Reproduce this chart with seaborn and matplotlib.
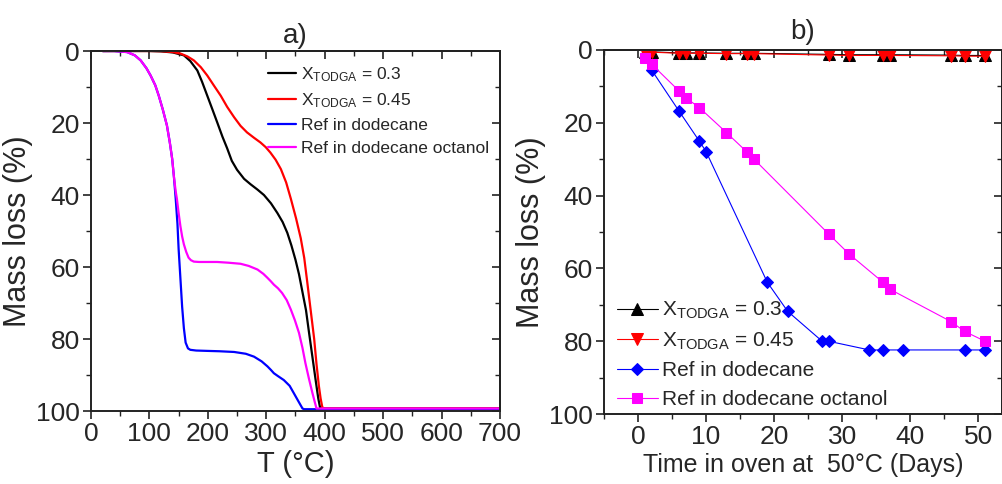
import numpy as np
import pandas as pd
import matplotlib
matplotlib.use("Agg")
import matplotlib.pyplot as plt
from matplotlib.ticker import MultipleLocator
import seaborn as sns

# ---------------- Panel a data (TGA) ----------------
T_x03 = [20, 60, 100, 120, 140, 159, 170, 182, 190, 199, 208, 216, 225, 233, 241, 250, 262, 273, 285, 296, 308, 319, 328, 336, 343, 350, 356, 362, 368, 373, 379, 385, 389, 392, 396, 420, 500, 600, 700]
ML_x03 = [0, 0, 0, 0.1, 0.4, 1.2, 2.8, 5.4, 8.5, 12.4, 16.3, 19.8, 23.8, 27, 30.5, 33, 35.5, 37, 38.5, 40, 42.3, 45, 47.5, 50.5, 54, 58, 62, 67, 72, 78, 85, 92, 96.5, 99, 99.3, 99.3, 99.3, 99.3, 99.3]

T_x045 = [20, 60, 100, 120, 140, 153, 165, 176, 188, 199, 210, 222, 233, 245, 256, 267, 279, 290, 299, 307, 316, 325, 334, 342, 351, 359, 365, 370, 376, 382, 386, 390, 393, 396, 400, 420, 500, 600, 700]
ML_x045 = [0, 0, 0, 0.05, 0.3, 0.7, 1.5, 2.6, 4.5, 6.8, 9.5, 12.4, 15.5, 18.4, 20.8, 22.6, 24.1, 25.4, 26.7, 28.2, 30.2, 32.8, 36.5, 41, 46.5, 52, 57.5, 64, 72, 80, 87, 93, 96.5, 99, 99.3, 99.3, 99.3, 99.3, 99.3]

T_dod = [20, 40, 62, 75, 85, 95, 102, 110, 116, 123, 130, 135, 139, 142, 145, 148, 150, 153, 156, 159, 162, 166, 170, 180, 199, 220, 245, 265, 279, 292, 302, 308, 313, 320, 330, 340, 347, 355, 362, 365, 400, 500, 600, 700]
ML_dod = [0, 0, 0.3, 1.2, 2.6, 4.8, 6.8, 9.5, 12.4, 16.3, 20.7, 25.5, 30, 35, 41, 48, 55, 63, 71, 77, 81, 82.6, 83, 83.2, 83.3, 83.4, 83.6, 84.1, 84.9, 86.2, 87.6, 88.6, 89.5, 90.3, 91.4, 93, 95, 97.3, 99.3, 99.5, 99.5, 99.5, 99.5, 99.5]

T_oct = [20, 40, 62, 75, 85, 95, 102, 110, 116, 123, 130, 135, 139, 142, 145, 147, 150, 153, 156, 159, 163, 167, 171, 176, 185, 200, 216, 235, 256, 270, 285, 295, 302, 308, 313, 320, 327, 335, 342, 349, 356, 362, 367, 373, 379, 383, 386, 390, 420, 500, 600, 700]
ML_oct = [0, 0, 0.3, 1.2, 2.6, 4.8, 6.8, 9.5, 12.4, 16.3, 20.7, 25.5, 30, 35, 39, 41, 45, 48.6, 51.5, 53.7, 55.8, 57.4, 58.1, 58.5, 58.6, 58.6, 58.6, 58.8, 59.1, 59.7, 60.7, 61.9, 63, 64, 64.9, 65.9, 67.2, 69.2, 71.8, 74.8, 78.3, 82.5, 86.7, 91, 95, 97.5, 99.3, 99.3, 99.3, 99.3, 99.3, 99.3]

# ---------------- Panel b data (oven ageing) ----------------
days_x = [1, 2, 6, 7, 9, 13, 16, 17, 28, 31, 36, 37, 46, 48, 51]
loss_x03 = [0.5, 0.5, 0.8, 0.8, 0.8, 0.9, 0.9, 0.9, 1.2, 1.3, 1.3, 1.3, 1.4, 1.5, 1.5]
loss_x045 = [0.6, 0.6, 0.9, 0.9, 0.9, 1.0, 1.0, 1.0, 1.4, 1.5, 1.5, 1.5, 1.6, 1.7, 1.7]

days_dod = [2, 6, 9, 10, 19, 22, 27, 28, 34, 36, 39, 48, 51]
loss_dod = [5.5, 16.7, 25, 27.9, 63.8, 71.8, 79.9, 80, 82.4, 82.4, 82.4, 82.4, 82.4]

days_oct = [1, 2, 6, 7, 9, 13, 16, 17, 28, 31, 36, 37, 46, 48, 51]
loss_oct = [2.3, 3.9, 11.2, 13.1, 15.8, 22.7, 28, 29.9, 50.5, 56, 63.8, 65.7, 74.6, 77.3, 80]

lab_x03 = r'X$_{\mathregular{TODGA}}$ = 0.3'
lab_x045 = r'X$_{\mathregular{TODGA}}$ = 0.45'
lab_dod = 'Ref in dodecane'
lab_oct = 'Ref in dodecane octanol'

sns.set_theme(style="ticks")
plt.rcParams['font.family'] = ['Liberation Sans', 'DejaVu Sans']
plt.rcParams['mathtext.default'] = 'regular'
plt.rcParams['axes.edgecolor'] = '#222222'
plt.rcParams['axes.linewidth'] = 1.4

fig = plt.figure(figsize=(10.03, 4.84), dpi=100)
axa = fig.add_axes([0.0907, 0.1508, 0.4078, 0.7438])
axb = fig.add_axes([0.6022, 0.1446, 0.3968, 0.7521])

# Panel a
for T, ML, c, lab in [(T_x03, ML_x03, 'black', lab_x03),
                      (T_x045, ML_x045, 'red', lab_x045),
                      (T_dod, ML_dod, 'blue', lab_dod),
                      (T_oct, ML_oct, 'magenta', lab_oct)]:
    sns.lineplot(x=T, y=ML, ax=axa, color=c, lw=1.6, label=lab, sort=False,
                 estimator=None, legend=False)

axa.set_xlim(0, 700)
axa.set_ylim(100, 0)
axa.xaxis.set_major_locator(MultipleLocator(100))
axa.xaxis.set_minor_locator(MultipleLocator(50))
axa.yaxis.set_major_locator(MultipleLocator(20))
axa.yaxis.set_minor_locator(MultipleLocator(10))
axa.set_xlabel('T (°C)', fontsize=21, labelpad=3)
axa.set_ylabel('Mass loss (%)', fontsize=22, labelpad=2)
axa.set_title('a)', fontsize=20, pad=6)
la = axa.get_lines()[:4]
axa.legend(la, [lab_x03, lab_x045, lab_dod, lab_oct], loc='upper right',
           fontsize=12.5, frameon=False, handlelength=1.6,
           handletextpad=0.3, labelspacing=0.45, borderaxespad=0.2,
           bbox_to_anchor=(1.0, 0.99))

# Panel b
sns.lineplot(x=days_x, y=loss_x03, ax=axb, color='black', lw=0.8, marker='^',
             markersize=8, markeredgecolor='black', estimator=None, legend=False)
sns.lineplot(x=days_x, y=loss_x045, ax=axb, color='red', lw=0.8, marker='v',
             markersize=8, markeredgecolor='red', estimator=None, legend=False)
sns.lineplot(x=days_dod, y=loss_dod, ax=axb, color='blue', lw=0.8, marker='D',
             markersize=6.5, markeredgecolor='blue', estimator=None, legend=False)
sns.lineplot(x=days_oct, y=loss_oct, ax=axb, color='magenta', lw=0.8, marker='s',
             markersize=6.5, markeredgecolor='magenta', estimator=None, legend=False)

axb.set_xlim(-5, 53.5)
axb.set_ylim(100, 0)
axb.xaxis.set_major_locator(MultipleLocator(10))
axb.xaxis.set_minor_locator(MultipleLocator(5))
axb.yaxis.set_major_locator(MultipleLocator(20))
axb.yaxis.set_minor_locator(MultipleLocator(10))
axb.set_xlabel('Time in oven at  50°C (Days)', fontsize=18, labelpad=3)
axb.set_ylabel('Mass loss (%)', fontsize=22, labelpad=2)
axb.set_title('b)', fontsize=20, pad=8)
lb = axb.get_lines()[:4]
axb.legend(lb, [lab_x03, lab_x045, lab_dod, lab_oct], loc='lower left',
           fontsize=15, frameon=False, handlelength=2.0, numpoints=1,
           handletextpad=0.2, labelspacing=0.45, borderaxespad=0.2,
           bbox_to_anchor=(0.0, -0.02))

for ax in (axa, axb):
    ax.tick_params(which='major', direction='out', length=6, width=1.2,
                   labelsize=19, color='#222222', pad=2)
    ax.tick_params(which='minor', direction='out', length=3.5, width=1.0, color='#222222')
    for s in ax.spines.values():
        s.set_visible(True)
    secx = ax.secondary_xaxis('top')
    secx.xaxis.set_major_locator(ax.xaxis.get_major_locator())
    secx.xaxis.set_minor_locator(ax.xaxis.get_minor_locator())
    secx.tick_params(which='major', direction='in', length=6, width=1.2, labeltop=False, color='#222222')
    secx.tick_params(which='minor', direction='in', length=3.5, width=1.0, color='#222222')
    secy = ax.secondary_yaxis('right')
    secy.yaxis.set_major_locator(ax.yaxis.get_major_locator())
    secy.yaxis.set_minor_locator(ax.yaxis.get_minor_locator())
    secy.tick_params(which='major', direction='in', length=6, width=1.2, labelright=False, color='#222222')
    secy.tick_params(which='minor', direction='in', length=3.5, width=1.0, color='#222222')

fig.savefig('out.png', dpi=100)
